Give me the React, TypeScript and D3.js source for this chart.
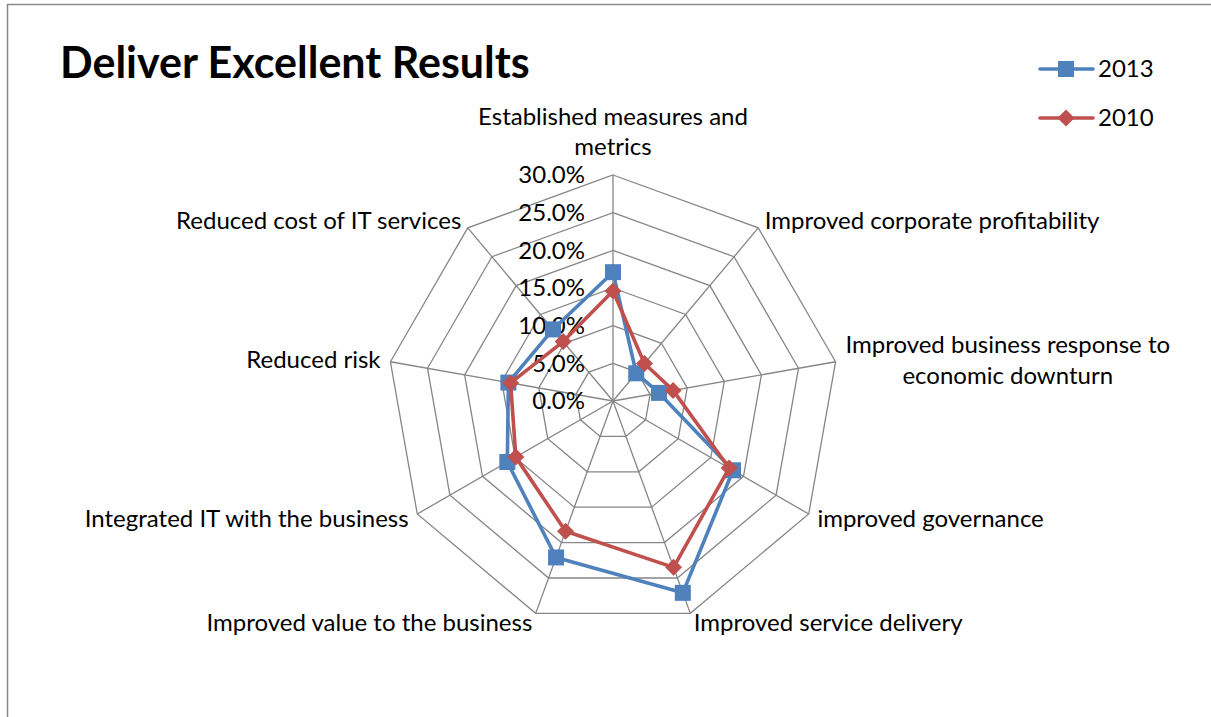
import React from 'react';
import * as d3 from 'd3';

const categories: string[][] = [
  ['Established measures and', 'metrics'],
  ['Improved corporate profitability'],
  ['Improved business response to', 'economic downturn'],
  ['improved governance'],
  ['Improved service delivery'],
  ['Improved value to the business'],
  ['Integrated IT with the business'],
  ['Reduced risk'],
  ['Reduced cost of IT services'],
];
const values2013 = [17.1, 4.8, 6.2, 18.4, 27.1, 22.1, 16.2, 14.1, 12.4];
const values2010 = [14.6, 6.5, 8.1, 17.8, 23.5, 18.4, 14.9, 13.8, 10.3];
const tickValues = [0, 5, 10, 15, 20, 25, 30];
const seriesNames = ['2013', '2010'];

const W = 1211;
const H = 717;
const CX = 613;
const CY = 401;
const R = 226;
const FONT = 'Lato, "Open Sans", sans-serif';
const LABEL_SIZE = 24;
const BLUE = '#4F81BD';
const RED = '#C0504D';
const GRID = '#868686';

let measureCtx: CanvasRenderingContext2D | null = null;
function textWidth(s: string): number {
  if (typeof document === 'undefined') return s.length * LABEL_SIZE * 0.5;
  if (!measureCtx) measureCtx = document.createElement('canvas').getContext('2d');
  if (!measureCtx) return s.length * LABEL_SIZE * 0.5;
  measureCtx.font = `${LABEL_SIZE}px Lato, "Open Sans", sans-serif`;
  return measureCtx.measureText(s).width;
}

export default function App() {
  const n = categories.length;
  const rScale = d3.scaleLinear().domain([0, 30]).range([0, R]);
  const angle = (i: number) => (i * 2 * Math.PI) / n;
  const pt = (i: number, v: number): [number, number] => {
    const a = angle(i);
    const r = rScale(v);
    return [CX + r * Math.sin(a), CY - r * Math.cos(a)];
  };
  const lineGen = d3.line<[number, number]>().curve(d3.curveLinearClosed);

  const series = [
    { name: seriesNames[0], values: values2013, color: BLUE, marker: 'square' },
    { name: seriesNames[1], values: values2010, color: RED, marker: 'diamond' },
  ];

  const marker = (type: string, x: number, y: number, color: string, key: string) => {
    if (type === 'square') {
      return <rect key={key} x={x - 8} y={y - 8} width={16} height={16} fill={color} />;
    }
    const d = 8.5;
    return (
      <path key={key} d={`M${x},${y - d}L${x + d},${y}L${x},${y + d}L${x - d},${y}Z`} fill={color} />
    );
  };

  const lineH = 30.5;

  return (
    <svg width={W} height={H} style={{ position: 'absolute', left: 0, top: 0, background: '#fff' }}>
      <rect x={0} y={0} width={W} height={H} fill="#fff" />
      <line x1={7} y1={4.5} x2={W} y2={4.5} stroke="#8a8a8a" strokeWidth={1.5} />
      <line x1={7.5} y1={4} x2={7.5} y2={H} stroke="#8a8a8a" strokeWidth={1.5} />

      <text x={60} y={78} fontFamily={FONT} fontWeight="bold" fontSize={43} fill="#000">
        Deliver Excellent Results
      </text>

      {/* grid rings */}
      {tickValues.slice(1).map((t) => (
        <path
          key={'ring' + t}
          d={lineGen(d3.range(n).map((i) => pt(i, t))) || ''}
          fill="none"
          stroke={GRID}
          strokeWidth={1.3}
        />
      ))}
      {/* spokes */}
      {d3.range(n).map((i) => {
        const [x, y] = pt(i, 30);
        return <line key={'sp' + i} x1={CX} y1={CY} x2={x} y2={y} stroke={GRID} strokeWidth={1.3} />;
      })}

      {/* tick labels */}
      {tickValues.map((t) => (
        <text
          key={'t' + t}
          x={CX - 28}
          y={CY - rScale(t)}
          dy="0.35em"
          textAnchor="end"
          fontFamily={FONT}
          fontSize={LABEL_SIZE}
          fill="#000"
        >
          {d3.format('.1f')(t) + '%'}
        </text>
      ))}

      {/* category labels */}
      {categories.map((lines, i) => {
        const a = angle(i);
        const [vx, vy] = pt(i, 30);
        const s = Math.sin(a);
        const c = Math.cos(a);
        let x = vx + 10 * s;
        let y = vy - 10 * c;
        let anchor = Math.abs(s) < 0.1 ? 'middle' : s > 0 ? 'start' : 'end';
        if (lines.length > 1 && anchor !== 'middle') {
          const bw = Math.max(...lines.map(textWidth));
          x = anchor === 'start' ? x + bw / 2 : x - bw / 2;
          anchor = 'middle';
        }
        const blockH = lines.length * lineH;
        if (c > 0.95) y -= blockH / 2 + 3;
        const firstY = y - ((lines.length - 1) * lineH) / 2;
        return (
          <text key={'c' + i} textAnchor={anchor} fontFamily={FONT} fontSize={LABEL_SIZE} fill="#000">
            {lines.map((l, j) => (
              <tspan key={j} x={x} y={firstY + j * lineH} dy="0.35em">
                {l}
              </tspan>
            ))}
          </text>
        );
      })}

      {/* series */}
      {series.map((s) => {
        const pts = s.values.map((v, i) => pt(i, v));
        return (
          <g key={s.name}>
            <path d={lineGen(pts) || ''} fill="none" stroke={s.color} strokeWidth={3.6} strokeLinejoin="round" />
            {pts.map(([x, y], i) => marker(s.marker, x, y, s.color, s.name + i))}
          </g>
        );
      })}

      {/* legend */}
      {series.map((s, k) => {
        const y = 69 + k * 49;
        return (
          <g key={'lg' + s.name}>
            <line x1={1040} y1={y} x2={1093} y2={y} stroke={s.color} strokeWidth={3.6} strokeLinecap="round" />
            {marker(s.marker, 1066, y, s.color, 'lm' + k)}
            <text x={1098} y={y} dy="0.35em" fontFamily={FONT} fontSize={LABEL_SIZE} fill="#000">
              {s.name}
            </text>
          </g>
        );
      })}
    </svg>
  );
}
